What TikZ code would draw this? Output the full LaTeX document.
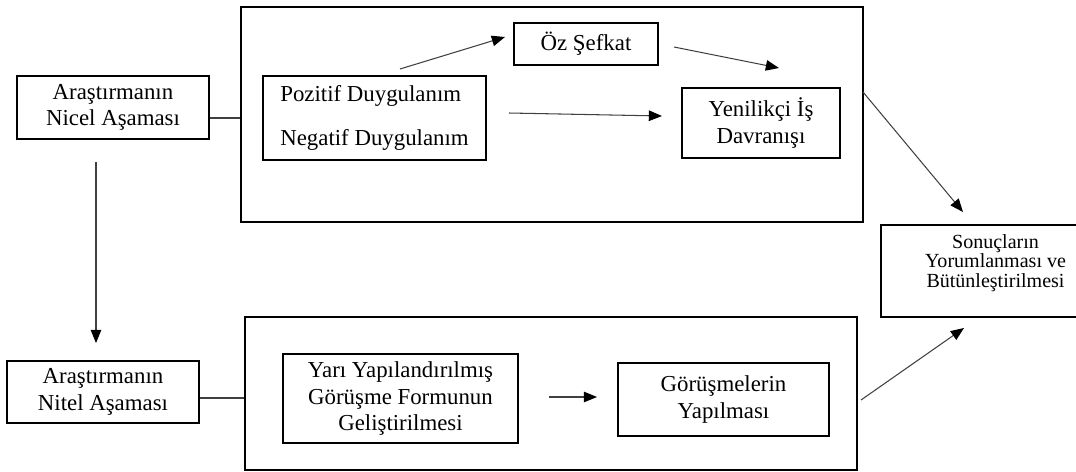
\documentclass[tikz,border=0pt]{standalone}
\usepackage{fontspec}
\setmainfont{Liberation Serif}
\usetikzlibrary{arrows.meta,calc}
\begin{document}
\begin{tikzpicture}[x=0.02cm,y=-0.02cm,
  box/.style={draw=black,line width=0.6pt,inner sep=0pt,align=center,
    font=\fontsize{13}{15}\selectfont},
  frame/.style={draw=black,line width=1.6pt,inner sep=0pt},
  link/.style={draw=black!75,line width=0.6pt},
  flow/.style={link,-{Triangle[length=7.5pt,width=6pt,color=black]}}]
\useasboundingbox (0,0) rectangle (1076,471);
\clip (0,0) rectangle (1076,471);

% stage frames
\node[frame,minimum width=622*0.02cm,minimum height=215*0.02cm] (quant) at (552,114.5) {};
\node[frame,minimum width=612*0.02cm,minimum height=153*0.02cm] (qual) at (551,393.5) {};

% boxes
\node[box,minimum width=192*0.02cm,minimum height=63*0.02cm] (nicel) at (113,107.5) {Araştırmanın\\Nicel Aşaması};
\node[box,minimum width=192*0.02cm,minimum height=62*0.02cm] (nitel) at (103,392) {Araştırmanın\\Nitel Aşaması};
\node[box,align=left,minimum width=223*0.02cm,minimum height=84*0.02cm] (poz) at (374.5,118) {Pozitif Duygulanım\\[10pt]Negatif Duygulanım};
\node[box,minimum width=144*0.02cm,minimum height=42*0.02cm] (oz) at (586,44) {Öz Şefkat};
\node[box,minimum width=158*0.02cm,minimum height=70*0.02cm] (yen) at (761,123) {Yenilikçi İş\\Davranışı};
\node[box,minimum width=211*0.02cm,minimum height=73*0.02cm] (gor) at (723.5,399.5) {Görüşmelerin\\Yapılması};
\node[box,minimum width=235*0.02cm,minimum height=89*0.02cm] (yari) at (400.5,398.5) {Yarı Yapılandırılmış\\Görüşme Formunun\\Geliştirilmesi};

% results box, its text set a little above the middle
\node[box,minimum width=229*0.02cm,minimum height=92*0.02cm] (son) at (995.5,271) {};
\node[align=center,inner sep=0pt,font=\fontsize{11.4}{11.2}\selectfont]
  (sontext) at ($(son.center)+(0,-8)$) {Sonuçların\\Yorumlanması ve\\Bütünleştirilmesi};

% connector end points
\coordinate (nicelOut) at (nicel.east |- 0,118);
\coordinate (nitelOut) at (nitel.east |- 0,398);
\coordinate (downA) at (96,162);
\coordinate (downB) at (96,343);
\coordinate (pozA) at (400,69);
\coordinate (ozIn) at (505,37);
\coordinate (pozB) at (509,113);
\coordinate (yenIn) at (662,116);
\coordinate (ozOut) at (674,47);
\coordinate (yenTop) at (779,68);
\coordinate (quantOut) at (863,92);
\coordinate (sonTop) at (963,212);
\coordinate (qualOut) at (861,400);
\coordinate (sonBottom) at (964,328);
\coordinate (yariOut) at (549,397);
\coordinate (gorIn) at (597,397);

% connectors
\draw[link] (nicelOut) -- (nicelOut -| quant.west);
\draw[link] (nitelOut) -- (nitelOut -| qual.west);
\draw[flow] (downA) -- (downB);
\draw[flow] (pozA) -- (ozIn);
\draw[flow] (pozB) -- (yenIn);
\draw[flow] (ozOut) -- (yenTop);
\draw[flow] (quantOut) -- (sonTop);
\draw[flow] (qualOut) -- (sonBottom);
\draw[flow] (yariOut) -- (gorIn);
\end{tikzpicture}
\end{document}
